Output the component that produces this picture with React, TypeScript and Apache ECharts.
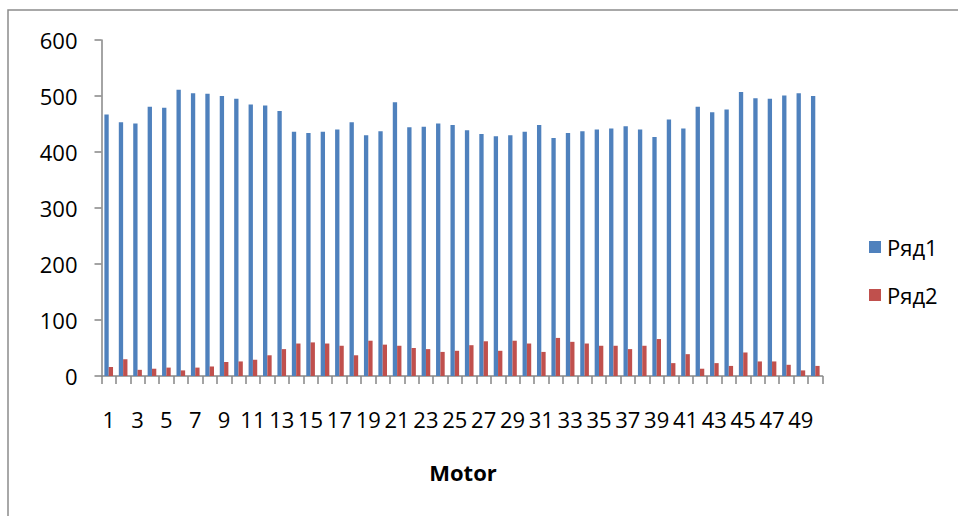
import React, { useEffect, useRef } from "react";
import * as echarts from "echarts";

const categories: string[] = Array.from({ length: 50 }, (_, i) => String(i + 1));

const series1: number[] = [
  467, 453, 451, 481, 479, 511, 505, 504, 500, 495,
  485, 483, 473, 436, 434, 436, 440, 453, 430, 437,
  489, 444, 445, 451, 448, 439, 432, 428, 430, 436,
  448, 425, 434, 437, 440, 442, 446, 440, 427, 458,
  442, 481, 471, 476, 507, 496, 495, 501, 505, 500,
];

const series2: number[] = [
  16, 30, 11, 13, 15, 10, 15, 17, 25, 26,
  29, 37, 48, 58, 60, 58, 54, 37, 63, 56,
  54, 50, 48, 43, 45, 55, 62, 45, 63, 58,
  43, 68, 61, 58, 54, 54, 48, 54, 66, 23,
  39, 13, 23, 18, 42, 26, 26, 20, 10, 18,
];

const seriesNames: string[] = ["Ряд1", "Ряд2"];
const yTicks = { min: 0, max: 600, interval: 100 };
const xAxisTitle = "Motor";

export default function App() {
  const ref = useRef<HTMLDivElement>(null);

  useEffect(() => {
    if (!ref.current) return;
    const chart = echarts.init(ref.current, undefined, { renderer: "svg" });
    const font = "'Open Sans', 'Liberation Sans', Arial, sans-serif";
    chart.setOption({
      animation: false,
      backgroundColor: "#ffffff",
      textStyle: { fontFamily: font, color: "#000" },
      grid: { left: 101.5, right: 135.5, top: 40, bottom: 140, containLabel: false },
      legend: {
        orient: "vertical",
        left: 864,
        top: 231,
        itemWidth: 12,
        itemHeight: 12,
        itemGap: 26,
        icon: "rect",
        textStyle: { fontSize: 22, fontFamily: font, color: "#000", padding: [0, 0, 0, 1] },
        data: seriesNames,
      },
      xAxis: {
        type: "category",
        data: categories,
        boundaryGap: true,
        axisLine: { show: true, lineStyle: { color: "#868686", width: 1.5 } },
        axisTick: { show: true, interval: 0, length: 8, lineStyle: { color: "#868686", width: 1.5 } },
        axisLabel: { interval: 1, fontSize: 22, color: "#000", margin: 32, fontFamily: font },
        splitLine: { show: false },
      },
      yAxis: {
        type: "value",
        min: yTicks.min,
        max: yTicks.max,
        interval: yTicks.interval,
        axisLine: { show: true, lineStyle: { color: "#868686", width: 1.5 } },
        axisTick: { show: true, length: 7, lineStyle: { color: "#868686", width: 1.5 } },
        axisLabel: { fontSize: 22, color: "#000", margin: 24, fontFamily: font },
        splitLine: { show: false },
      },
      series: [
        {
          name: seriesNames[0],
          type: "bar",
          data: series1,
          itemStyle: { color: "#4F81BD" },
          barGap: "0%",
          barCategoryGap: "40%",
        },
        {
          name: seriesNames[1],
          type: "bar",
          data: series2,
          itemStyle: { color: "#C0504D" },
          barGap: "0%",
          barCategoryGap: "40%",
        },
      ],
      graphic: [
        {
          type: "polyline",
          shape: { points: [[8, 516], [8, 10], [958, 10]] },
          style: { stroke: "#8c8c8c", lineWidth: 1.5, fill: null },
          silent: true,
        },
        {
          type: "text",
          x: 463,
          y: 472,
          style: {
            text: xAxisTitle,
            font: `bold 22px ${font}`,
            fill: "#000",
            textAlign: "center",
            textVerticalAlign: "middle",
          },
        },
      ],
    });
    return () => chart.dispose();
  }, []);

  return (
    <div
      ref={ref}
      style={{ position: "fixed", left: 0, top: 0, width: 958, height: 516 }}
    />
  );
}
